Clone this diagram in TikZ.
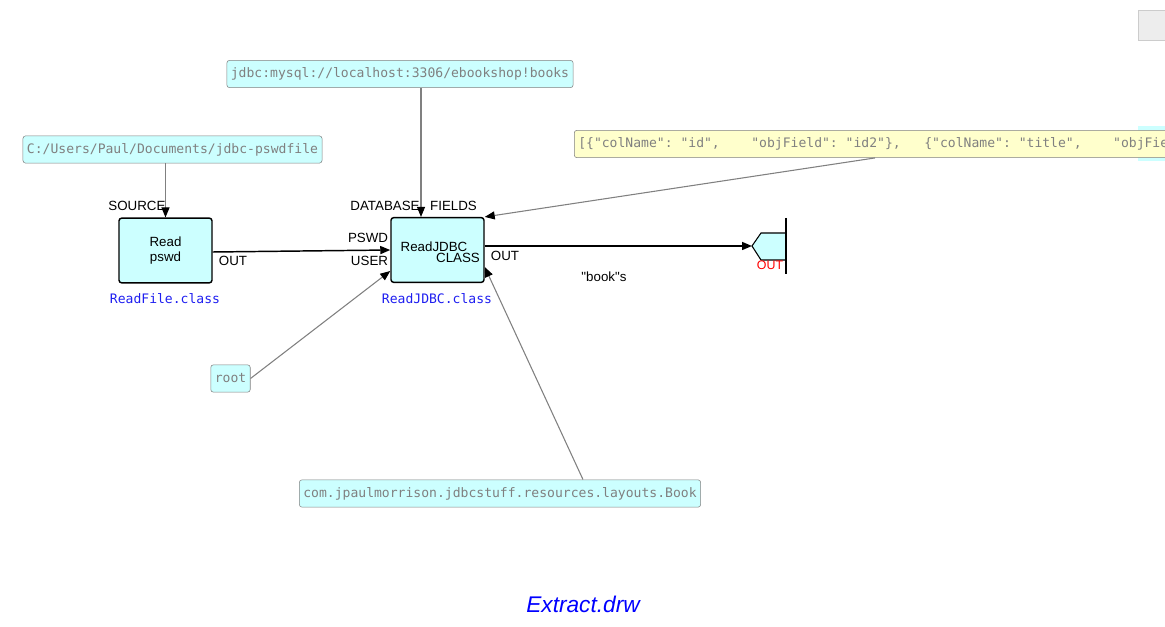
\documentclass[tikz,border=0pt]{standalone}
\usepackage{fontspec}
\setmainfont{Liberation Sans}
\newfontfamily\plainsans{Liberation Sans}
\newfontfamily\iipfont{DejaVu Sans Mono}
\usepackage{xcolor}
\usetikzlibrary{arrows.meta,calc,positioning}
\definecolor{compcyan}{HTML}{CCFFFF}
\definecolor{iipgrey}{HTML}{808080}
\definecolor{iipyellow}{HTML}{FFFFCC}
\definecolor{classblue}{HTML}{1E1EF0}
\begin{document}
\begin{tikzpicture}[
	x=0.75pt, y=-0.75pt,
	comp/.style = {shape=rectangle, rounded corners=2pt, draw=black, line width=1.1pt,
	fill=compcyan, align=center, minimum width=69.75pt, minimum height=48.5pt,
	font=\fontsize{10}{11.5}\selectfont},
	iip/.style = {shape=rectangle, rounded corners=2pt, draw=iipgrey, fill=compcyan,
	text=iipgrey, inner xsep=3pt, inner ysep=0pt, minimum height=20.5pt,
	font=\iipfont\fontsize{9.8}{11}\selectfont},
	portlbl/.style = {inner sep=0pt, font=\fontsize{10}{11}\selectfont},
	classlbl/.style = {inner sep=0pt, text=classblue, font=\iipfont\fontsize{9.8}{11}\selectfont},
	flow/.style = {draw=black, line width=1.1pt, -{Triangle[length=7.5pt,width=6pt]}},
	iipline/.style = {draw=iipgrey, line width=0.8pt, -{Triangle[length=7.5pt,width=6pt,color=black]}}
]
\useasboundingbox (0,0) rectangle (1165,627);
\clip (0,0) rectangle (1165,627);

% blocks
\node[comp] (read) at (165.5,250.5) {Read\\ pswd};
\node[comp] (readjdbc) at (437.5,250) {};
\node[portlbl] at (434,247) {ReadJDBC};
\node[classlbl] at (165,299) {ReadFile.class};
\node[classlbl] at (437,299) {ReadJDBC.class};

% initial information packets
\node[iip] (jdbc) at (400,74) {jdbc:mysql://localhost:3306/ebookshop!books};
\node[iip] (pswdfile) at (172.5,149.5) {C:/Users/Paul/Documents/jdbc-pswdfile};
\node[iip] (root) at (230.5,378.5) {root};
\node[iip] (layout) at (500,493.5) {com.jpaulmorrison.jdbcstuff.resources.layouts.Book};
\fill[compcyan] (1138,126) rectangle (1170,161);
\node[iip, fill=iipyellow, anchor=west] (fields) at (574,144)
	{[\{"colName":\ "id",\ \ \ \ "objField":\ "id2"\},\ \ \ \{"colName":\ "title",\ \ \ \ "objField":\ "title"\}]};

% port labels
\node[portlbl] at (137,206) {SOURCE};
\node[portlbl] at (233,261) {OUT};
\node[portlbl] at (385,206) {DATABASE};
\node[portlbl] at (453.5,206) {FIELDS};
\node[portlbl] at (368,238) {PSWD};
\node[portlbl] at (369.5,261) {USER};
\node[portlbl] at (458,258) {CLASS};
\node[portlbl] at (505,256) {OUT};
\node[portlbl, font=\plainsans\fontsize{10}{11}\selectfont] at (604,277) {"book"s};

% exit port
\coordinate (exitport) at (752,246);
\filldraw[fill=compcyan, draw=black, line width=0.8pt] (exitport) -- (761,233) -- (786,233) -- (786,260) -- (761,260) -- cycle;
\draw[line width=1.1pt] (786,218) -- (786,274);
\node[portlbl, text=red, font=\fontsize{9.3}{10}\selectfont] at (770,265) {OUT};

% connections
\draw[iipline] (pswdfile.south -| read) -- (read.north);
\draw[iipline] (jdbc.south -| 421,0) -- (421,0 |- readjdbc.north);
\draw[iipline] ($(fields.south west)+(301,0)$) -- (readjdbc.north east);
\draw[iipline] (root.east) -- ($(readjdbc.west)+(0,21)$);
\draw[iipline] ($(layout.north)+(83,0)$) -- ($(readjdbc.east)+(0,17)$);
\draw[flow] ($(read.east)+(0,1.5)$) -- (readjdbc.west);
\draw[flow] ($(readjdbc.east)+(0,-4)$) -- (exitport);

% leftovers at the right edge
\filldraw[fill=black!7, draw=black!20] (1138,10) rectangle (1170,40);

\node[text=blue, font=\itshape\fontsize{17}{20}\selectfont] (title) at (583,604) {Extract.drw};
\end{tikzpicture}
\end{document}
